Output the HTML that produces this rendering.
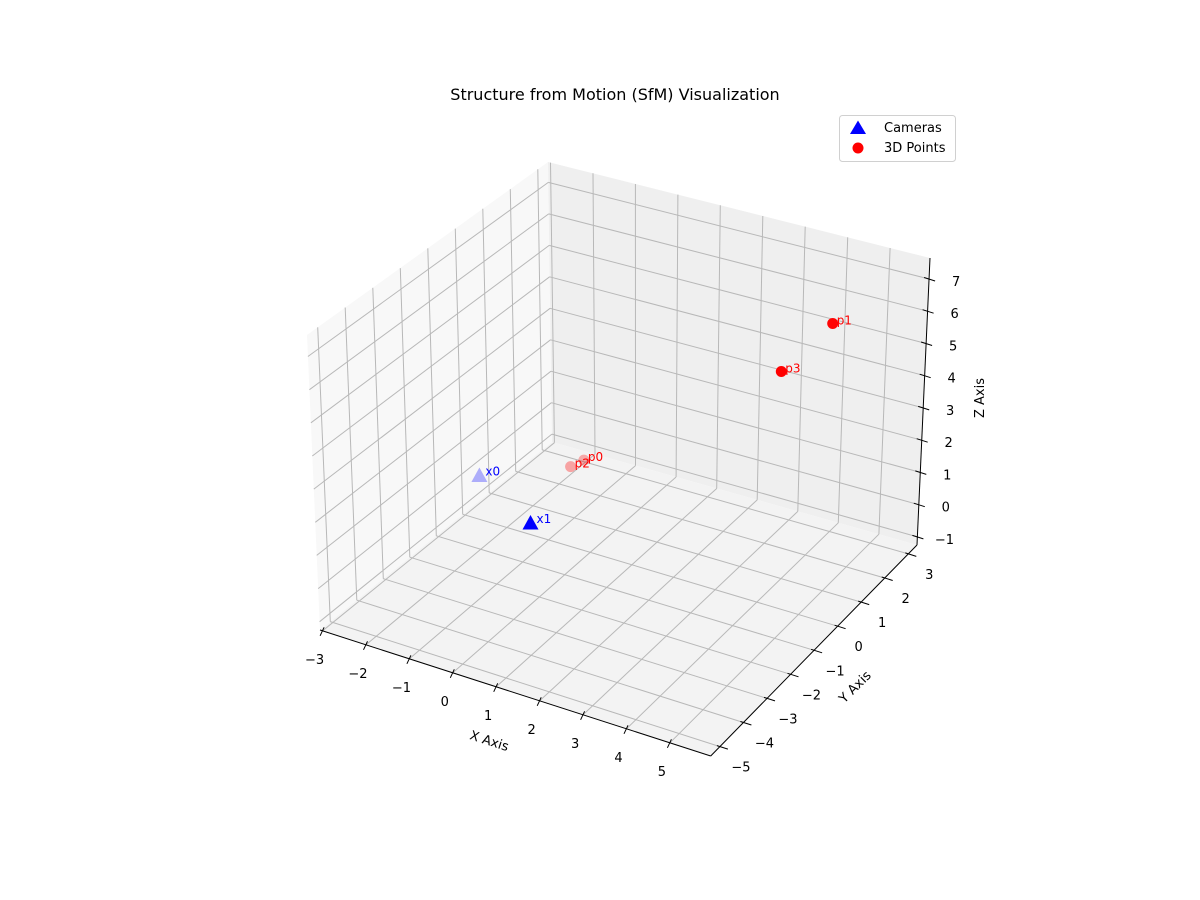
<!DOCTYPE html>
<html><head><meta charset="utf-8"><style>
body{margin:0;background:#fff;}
svg{display:block;font-family:"DejaVu Sans","Liberation Sans",sans-serif;}
</style></head><body>
<svg id="chart" width="1200" height="900" viewBox="0 0 1200 900">
<rect width="1200" height="900" fill="#fff"/>
<text x="615" y="100" text-anchor="middle" font-size="16" fill="#000">Structure from Motion (SfM) Visualization</text>
<g id="panes"></g>
<g id="grid"></g>
<g id="axes"></g>
<g id="marks"></g>
<g>
<rect x="839.5" y="115.5" width="116" height="46" rx="3" fill="#fff" fill-opacity="0.8" stroke="#d0d0d0"/>
<polygon points="858,120.5 866,134 850,134" fill="#0000ff"/>
<text x="884" y="132" font-size="13">Cameras</text>
<circle cx="858" cy="148" r="5.5" fill="#ff0000"/>
<text x="884" y="152" font-size="13">3D Points</text>
</g>
</svg>
<script>
// ---- data ----
const xTicks = [-3,-2,-1,0,1,2,3,4,5];
const yTicks = [-5,-4,-3,-2,-1,0,1,2,3];
const zTicks = [-1,0,1,2,3,4,5,6,7];
const cameraLabels = ["x0","x1"];
const cameraX = [-2.7,-0.8];
const cameraY = [0.1,-1.0];
const cameraZ = [0,0];
const pointLabels = ["p0","p1","p2","p3"];
const pointX = [-1.2,4.5,-1.3,3.9];
const pointY = [1.7,2.0,1.35,1.0];
const pointZ = [0,6.1,0,5.1];

// ---- axis / projection ----
const XL=[-3.06,5.94], YL=[-5.39,3.37], ZL=[-1.25,7.65];
const C={ '000':[320,630],'100':[710.7,756],'110':[917,545],'010':[552,442],
          '001':[307,335],'101':[712,459],'111':[930,258],'011':[548,162]};
function nx(x){return (x-XL[0])/(XL[1]-XL[0]);}
function ny(y){return (y-YL[0])/(YL[1]-YL[0]);}
function nz(z){return (z-ZL[0])/(ZL[1]-ZL[0]);}
function P(x,y,z){
  const u=nx(x),v=ny(y),w=nz(z);let sx=0,sy=0;
  for(const i of [0,1])for(const j of [0,1])for(const k of [0,1]){
    const wt=(i?u:1-u)*(j?v:1-v)*(k?w:1-w);const c=C[''+i+j+k];
    sx+=wt*c[0];sy+=wt*c[1];}
  return [sx,sy];
}
const NS='http://www.w3.org/2000/svg';
function mk(tag,attrs,parent){const e=document.createElementNS(NS,tag);for(const k in attrs)e.setAttribute(k,attrs[k]);parent.appendChild(e);return e;}
function pts(a){return a.map(p=>p[0].toFixed(1)+','+p[1].toFixed(1)).join(' ');}
const panes=document.getElementById('panes'),grid=document.getElementById('grid'),axes=document.getElementById('axes'),marks=document.getElementById('marks');
const [x0,x1]=XL,[y0,y1]=YL,[z0,z1]=ZL;

let e;
e=mk('polygon',{points:pts([P(x0,y0,z0),P(x0,y1,z0),P(x0,y1,z1),P(x0,y0,z1)]),fill:'#f8f8f8'},panes);


e=mk('polygon',{points:pts([P(x0,y1,z0),P(x1,y1,z0),P(x1,y1,z1),P(x0,y1,z1)]),fill:'#efefef'},panes);


e=mk('polygon',{points:pts([P(x0,y0,z0),P(x1,y0,z0),P(x1,y1,z0),P(x0,y1,z0)]),fill:'#f3f3f3'},panes);



function line(a,b,parent,name,col,wd){const l=mk('line',{x1:a[0].toFixed(1),y1:a[1].toFixed(1),x2:b[0].toFixed(1),y2:b[1].toFixed(1),stroke:col,'stroke-width':wd},parent);
  
  return l;}
xTicks.forEach(t=>{line(P(t,y0,z0),P(t,y1,z0),grid,'x-gridline','#b8b8b8',1);line(P(t,y1,z0),P(t,y1,z1),grid,'x-gridline','#b8b8b8',1);});
yTicks.forEach(t=>{line(P(x0,t,z0),P(x1,t,z0),grid,'y-gridline','#b8b8b8',1);line(P(x0,t,z0),P(x0,t,z1),grid,'y-gridline','#b8b8b8',1);});
zTicks.forEach(t=>{line(P(x0,y0,t),P(x0,y1,t),grid,'z-gridline','#b8b8b8',1);line(P(x0,y1,t),P(x1,y1,t),grid,'z-gridline','#b8b8b8',1);});

line(P(x0,y0,z0),P(x1,y0,z0),axes,'x-axis-line','#000',1);
line(P(x1,y0,z0),P(x1,y1,z0),axes,'y-axis-line','#000',1);
line(P(x1,y1,z0),P(x1,y1,z1),axes,'z-axis-line','#000',1);
function label(txt,x,y,name,anchor){const t=mk('text',{x:x.toFixed(1),y:y.toFixed(1),'font-size':13,'text-anchor':anchor||'middle'},axes);t.textContent=txt;
  
  return t;}
function fmt(v){return v<0?'\u2212'+(-v):''+v;}
xTicks.forEach(t=>{const a=P(t,y0,z0);line([a[0]+1.5,a[1]-3.5],[a[0]-2.5,a[1]+5],axes,'x-tick','#000',1);
  label(fmt(t),a[0]-8,a[1]+33,'x-tick-label');});
yTicks.forEach(t=>{const a=P(x1,t,z0);line([a[0]-3,a[1]-1],[a[0]+8,a[1]+2.5],axes,'y-tick','#000',1);
  label(fmt(t),a[0]+21,a[1]+25,'y-tick-label');});
zTicks.forEach(t=>{const a=P(x1,y1,t);line([a[0]-5,a[1]-1.5],[a[0]+6,a[1]+2],axes,'z-tick','#000',1);
  label(fmt(t),a[0]+27,a[1]+7,'z-tick-label');});
let t;
t=mk('text',{x:0,y:0,'font-size':13,'text-anchor':'middle',transform:'translate(488,745) rotate(18)'},axes);t.textContent='X Axis';


t=mk('text',{x:0,y:0,'font-size':13,'text-anchor':'middle',transform:'translate(858,690) rotate(-45)'},axes);t.textContent='Y Axis';


t=mk('text',{x:0,y:0,'font-size':13,'text-anchor':'middle',transform:'translate(984,398) rotate(-90)'},axes);t.textContent='Z Axis';



function depth(x,y,z){return 0.433*4*nx(x)-0.75*4*ny(y)+0.5*3*nz(z);}
function alphas(X,Y,Z){const d=X.map((_,i)=>depth(X[i],Y[i],Z[i]));const mn=Math.min(...d),mx=Math.max(...d);
  return d.map(v=>mx===mn?1:0.3+0.7*(v-mn)/(mx-mn));}
const ca=alphas(cameraX,cameraY,cameraZ),pa=alphas(pointX,pointY,pointZ);
cameraX.forEach((_,i)=>{const p=P(cameraX[i],cameraY[i],cameraZ[i]);
  const m=mk('polygon',{points:pts([[p[0],p[1]-9],[p[0]+8,p[1]+5.5],[p[0]-8,p[1]+5.5]]),fill:'#0000ff','fill-opacity':ca[i].toFixed(2)},marks);
  
  
  const l=mk('text',{x:(p[0]+6).toFixed(1),y:(p[1]-1).toFixed(1),'font-size':12,fill:'#0000ff'},marks);l.textContent=cameraLabels[i];
  
  });
pointX.forEach((_,i)=>{const p=P(pointX[i],pointY[i],pointZ[i]);
  const m=mk('circle',{cx:p[0].toFixed(1),cy:p[1].toFixed(1),r:5.5,fill:'#ff0000','fill-opacity':pa[i].toFixed(2)},marks);
  
  
  const l=mk('text',{x:(p[0]+4).toFixed(1),y:(p[1]+1).toFixed(1),'font-size':12,fill:'#ff0000'},marks);l.textContent=pointLabels[i];
  
  });
</script>
</body></html>
